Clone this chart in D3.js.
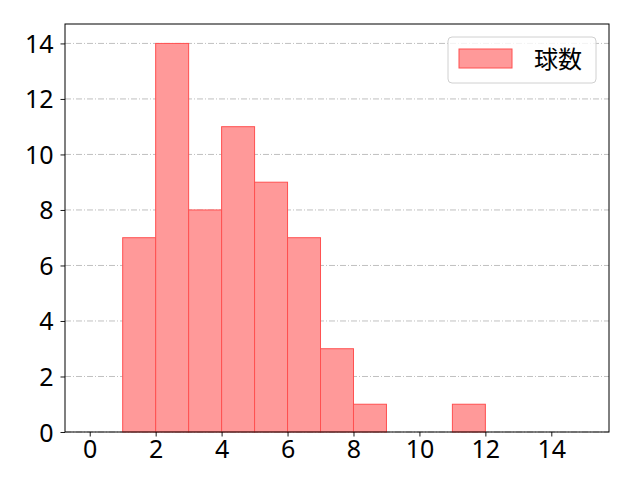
<!DOCTYPE html>
<html>
<head>
<meta charset="utf-8">
<script src="https://cdn.jsdelivr.net/npm/d3@7"></script>
<style>
  body { margin: 0; background: #fff; }
  text { font-family: "Noto Sans CJK JP", "DejaVu Sans", sans-serif; }
</style>
</head>
<body>
<svg width="640" height="480"></svg>
<script>
// histogram bins (left edge, right edge) and counts
var binStarts = [1, 2, 3, 4, 5, 6, 7, 8, 11];
var binEnds   = [2, 3, 4, 5, 6, 7, 8, 9, 12];
var counts    = [7, 14, 8, 11, 9, 7, 3, 1, 1];
var xTicks = [0, 2, 4, 6, 8, 10, 12, 14];
var yTicks = [0, 2, 4, 6, 8, 10, 12, 14];
var seriesName = "球数";

var margin = { top: 24, right: 31, bottom: 48, left: 65 };
var width = 640 - margin.left - margin.right;
var height = 480 - margin.top - margin.bottom;

var svg = d3.select("svg");
var g = svg.append("g")
    .attr("transform", "translate(" + margin.left + "," + margin.top + ")");

var x = d3.scaleLinear().domain([-0.75, 15.75]).range([0, width]);
var y = d3.scaleLinear().domain([0, 14.7]).range([height, 0]);

// grid
g.append("g")
  .selectAll("line")
  .data(yTicks)
  .enter().append("line")
    .attr("x1", 0).attr("x2", width)
    .attr("y1", function(d) { return y(d); })
    .attr("y2", function(d) { return y(d); })
    .attr("stroke", "#b0b0b0")
    .attr("stroke-width", 0.8)
    .attr("stroke-dasharray", "6,2,1,2");

// bars
g.append("g")
  .selectAll("rect")
  .data(counts)
  .enter().append("rect")
    .attr("x", function(d, i) { return x(binStarts[i]); })
    .attr("width", function(d, i) { return x(binEnds[i]) - x(binStarts[i]); })
    .attr("y", function(d) { return y(d); })
    .attr("height", function(d) { return y(0) - y(d); })
    .attr("fill", "#ff9999")
    .attr("stroke", "#ff5050")
    .attr("stroke-width", 1);

// axes
var xAxis = g.append("g")
    .attr("transform", "translate(0," + height + ")")
    .call(d3.axisBottom(x).tickValues(xTicks).tickSize(4.5).tickPadding(4));
var yAxis = g.append("g")
    .call(d3.axisLeft(y).tickValues(yTicks).tickSize(4.5).tickPadding(7));
[xAxis, yAxis].forEach(function(a) {
  a.select(".domain").remove();
  a.selectAll("text").attr("font-size", 25).attr("fill", "#000")
    .style("font-family", "'Noto Sans', 'Noto Sans CJK JP', sans-serif");
  a.selectAll("line").attr("stroke", "#000").attr("stroke-width", 0.9);
});
yAxis.selectAll("text").attr("dy", "0.36em");

g.append("rect")
    .attr("width", width).attr("height", height)
    .attr("fill", "none").attr("stroke", "#000").attr("stroke-width", 1);

// legend
var lg = g.append("g").attr("transform", "translate(" + (width - 161) + ",13)");
lg.append("rect")
    .attr("width", 148).attr("height", 46).attr("rx", 4)
    .attr("fill", "#fff").attr("fill-opacity", 0.8)
    .attr("stroke", "#d0d0d0");
lg.append("rect")
    .attr("x", 11).attr("y", 12).attr("width", 53).attr("height", 19)
    .attr("fill", "#ff9999").attr("stroke", "#ff5050");
lg.append("text")
    .attr("x", 86).attr("y", 31)
    .attr("font-size", 24).attr("fill", "#000")
    .text(seriesName);
</script>
</body>
</html>
